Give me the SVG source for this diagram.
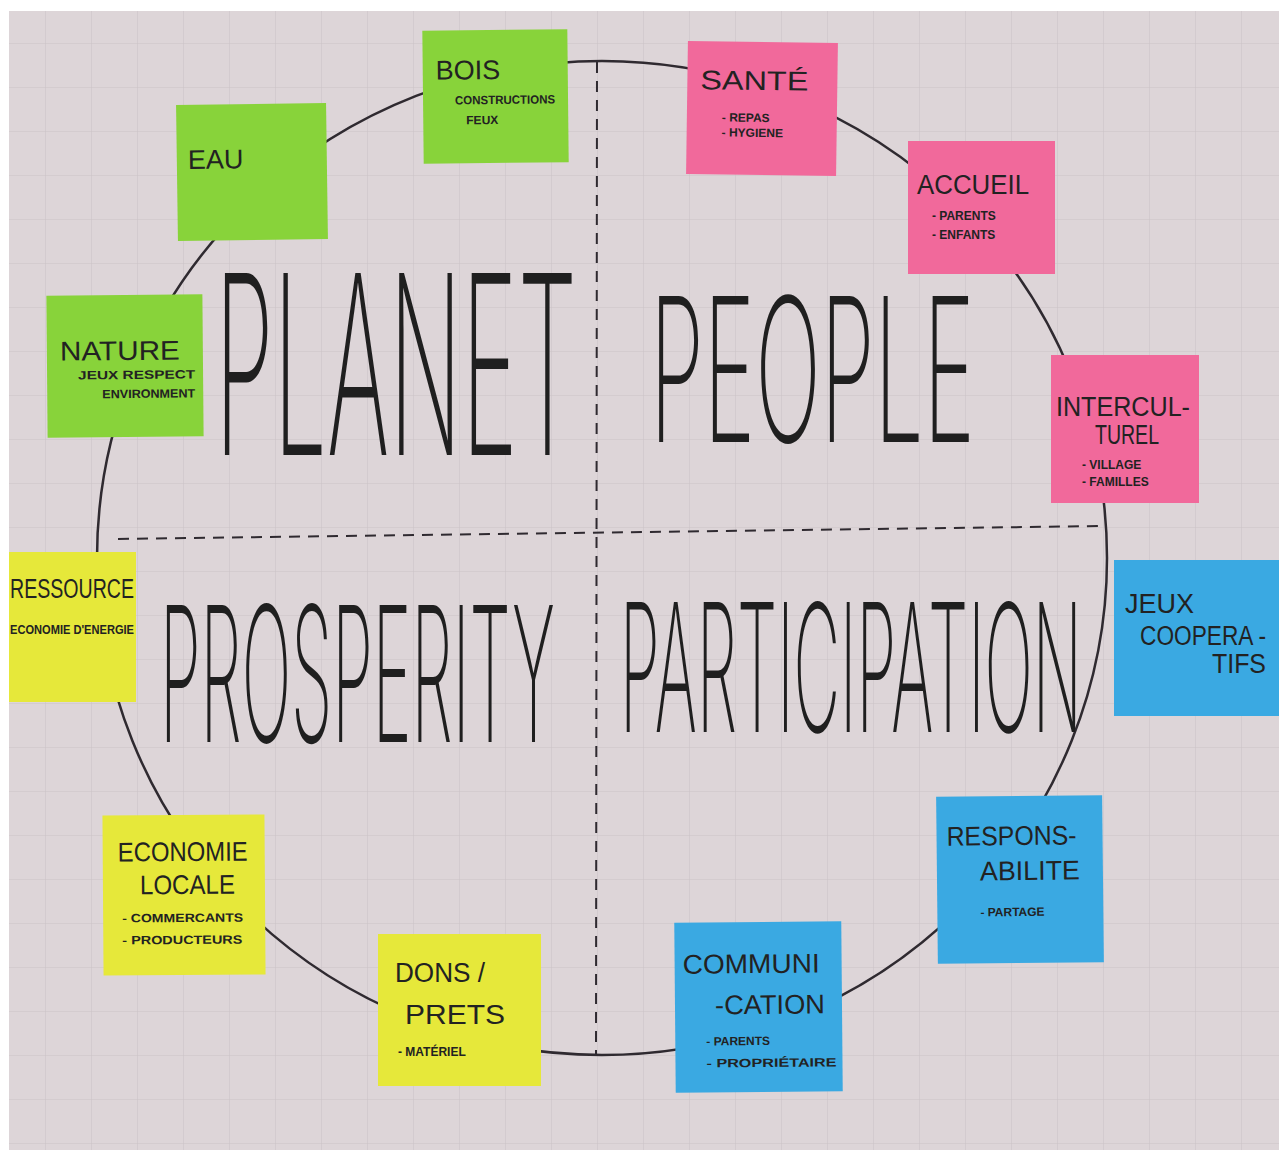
<svg xmlns="http://www.w3.org/2000/svg" width="1279" height="1153" viewBox="0 0 1279 1153">
<defs>
<pattern id="grid" x="0" y="0" width="46" height="44" patternUnits="userSpaceOnUse">
<path d="M46 0V44M0 44H46" fill="none" stroke="#cbc3c6" stroke-width="1.1"/>
</pattern>
<style>
.note{stroke:none}
.green{fill:#88d33a}
.pink{fill:#f1699b}
.blue{fill:#3aa9e2}
.yellow{fill:#e6e83a}
.t{font-family:"Liberation Sans","DejaVu Sans",sans-serif;fill:#222;}
.h{font-size:27px}
.s{font-size:12px;font-weight:bold}
.big{font-family:Inter,"Liberation Sans",sans-serif;font-weight:200;fill:#1f1f1f}
.ln{fill:none;stroke:#2f2a30;stroke-width:2.5}
.dash{fill:none;stroke:#2f2a30;stroke-width:2;stroke-dasharray:11 8}
</style>
</defs>
<rect x="0" y="0" width="1279" height="1153" fill="#ffffff"/>
<rect x="9" y="11" width="1270" height="1139" fill="#ddd5d8"/>
<rect x="9" y="11" width="1270" height="1139" fill="url(#grid)"/>

<g id="connectors">
<ellipse class="ln" cx="602" cy="558" rx="505" ry="497"/>
<line class="dash" x1="597" y1="62" x2="596" y2="1055"/>
<line class="dash" x1="118" y1="539" x2="1105" y2="526"/>
</g>

<g id="quadrants">
<text class="big" x="215" y="455" font-size="250" textLength="362" lengthAdjust="spacingAndGlyphs">PLANET</text>
<text class="big" x="650" y="442" font-size="200" textLength="325" lengthAdjust="spacingAndGlyphs">PEOPLE</text>
<text class="big" x="160" y="742" font-size="188" textLength="395" lengthAdjust="spacingAndGlyphs">PROSPERITY</text>
<text class="big" x="620" y="732" font-size="178" textLength="462" lengthAdjust="spacingAndGlyphs">PARTICIPATION</text>
</g>

<g id="bois" transform="rotate(-0.6 495 96)">
<rect class="note green" x="423" y="30" width="145" height="133"/>
<text class="t h" x="436" y="79" font-size="32">BOIS</text>
<text class="t s" x="455" y="104" font-size="10" textLength="100" lengthAdjust="spacingAndGlyphs">CONSTRUCTIONS</text>
<text class="t s" x="466" y="124" font-size="10">FEUX</text>
</g>

<g id="eau" transform="rotate(-0.8 252 172)">
<rect class="note green" x="177" y="104" width="150" height="136"/>
<text class="t h" x="188" y="168">EAU</text>
</g>

<g id="sante" transform="rotate(0.8 762 108)">
<rect class="note pink" x="687" y="42" width="150" height="133"/>
<text class="t h" x="700" y="90" textLength="108" lengthAdjust="spacingAndGlyphs">SANTÉ</text>
<text class="t s" x="722" y="122" font-size="10">- REPAS</text>
<text class="t s" x="722" y="137" font-size="10">- HYGIENE</text>
</g>

<g id="accueil">
<rect class="note pink" x="908" y="141" width="147" height="133"/>
<text class="t h" x="917" y="194" textLength="112" lengthAdjust="spacingAndGlyphs">ACCUEIL</text>
<text class="t s" x="932" y="220" font-size="11">- PARENTS</text>
<text class="t s" x="932" y="239" font-size="11">- ENFANTS</text>
</g>

<g id="nature" transform="rotate(-0.5 125 366)">
<rect class="note green" x="47" y="295" width="156" height="142"/>
<text class="t h" x="60" y="360" textLength="120" lengthAdjust="spacingAndGlyphs">NATURE</text>
<text class="t s" x="78" y="379" font-size="11" textLength="117" lengthAdjust="spacingAndGlyphs">JEUX RESPECT</text>
<text class="t s" x="102" y="398" font-size="11" textLength="93" lengthAdjust="spacingAndGlyphs">ENVIRONMENT</text>
</g>

<g id="interculturel">
<rect class="note pink" x="1051" y="355" width="148" height="148"/>
<text class="t h" x="1056" y="416" textLength="134" lengthAdjust="spacingAndGlyphs">INTERCUL-</text>
<text class="t h" x="1095" y="444" textLength="64" lengthAdjust="spacingAndGlyphs">TUREL</text>
<text class="t s" x="1082" y="469" font-size="11">- VILLAGE</text>
<text class="t s" x="1082" y="486" font-size="11">- FAMILLES</text>
</g>

<g id="jeux-cooperatifs">
<rect class="note blue" x="1114" y="560" width="165" height="156"/>
<text class="t h" x="1125" y="613">JEUX</text>
<text class="t h" x="1140" y="645" textLength="126" lengthAdjust="spacingAndGlyphs">COOPERA -</text>
<text class="t h" x="1212" y="673" textLength="54" lengthAdjust="spacingAndGlyphs">TIFS</text>
</g>

<g id="ressource">
<rect class="note yellow" x="9" y="552" width="127" height="150"/>
<text class="t h" x="10" y="598" textLength="124" lengthAdjust="spacingAndGlyphs">RESSOURCE</text>
<text class="t s" x="10" y="634" font-size="11" textLength="124" lengthAdjust="spacingAndGlyphs">ECONOMIE D'ENERGIE</text>
</g>

<g id="economie-locale" transform="rotate(-0.4 184 895)">
<rect class="note yellow" x="103" y="815" width="162" height="160"/>
<text class="t h" x="118" y="861" textLength="130" lengthAdjust="spacingAndGlyphs">ECONOMIE</text>
<text class="t h" x="140" y="894" textLength="95" lengthAdjust="spacingAndGlyphs">LOCALE</text>
<text class="t s" x="122" y="922" font-size="11" textLength="121" lengthAdjust="spacingAndGlyphs">- COMMERCANTS</text>
<text class="t s" x="122" y="944" font-size="11" textLength="120" lengthAdjust="spacingAndGlyphs">- PRODUCTEURS</text>
</g>

<g id="dons-prets">
<rect class="note yellow" x="378" y="934" width="163" height="152"/>
<text class="t h" x="395" y="982" textLength="90" lengthAdjust="spacingAndGlyphs">DONS /</text>
<text class="t h" x="405" y="1024" textLength="100" lengthAdjust="spacingAndGlyphs">PRETS</text>
<text class="t s" x="398" y="1056" font-size="11">- MATÉRIEL</text>
</g>

<g id="communication" transform="rotate(-0.5 758 1007)">
<rect class="note blue" x="675" y="922" width="167" height="170"/>
<text class="t h" x="683" y="973" textLength="137" lengthAdjust="spacingAndGlyphs">COMMUNI</text>
<text class="t h" x="715" y="1014" textLength="110" lengthAdjust="spacingAndGlyphs">-CATION</text>
<text class="t s" x="706" y="1045" font-size="12">- PARENTS</text>
<text class="t s" x="706" y="1067" font-size="12" textLength="130" lengthAdjust="spacingAndGlyphs">- PROPRIÉTAIRE</text>
</g>

<g id="responsabilite" transform="rotate(-0.6 1020 880)">
<rect class="note blue" x="937" y="796" width="166" height="167"/>
<text class="t h" x="947" y="845" textLength="130" lengthAdjust="spacingAndGlyphs">RESPONS-</text>
<text class="t h" x="980" y="880" textLength="100" lengthAdjust="spacingAndGlyphs">ABILITE</text>
<text class="t s" x="980" y="916" font-size="11">- PARTAGE</text>
</g>
</svg>
